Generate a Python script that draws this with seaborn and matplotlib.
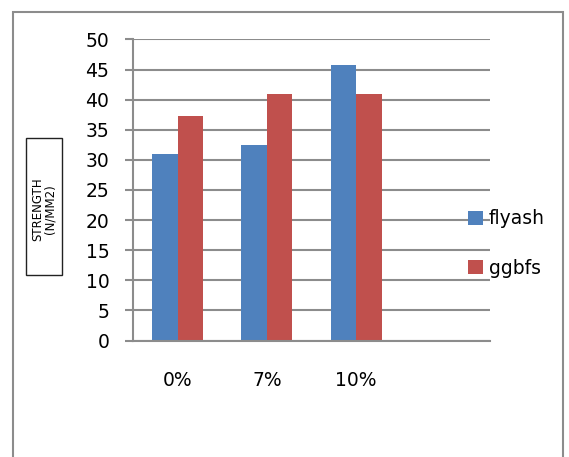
import matplotlib
matplotlib.use("Agg")
import matplotlib.pyplot as plt
from matplotlib.patches import Rectangle
import seaborn as sns
import pandas as pd
import numpy as np

categories = ["0%", "7%", "10%"]
all_slots = ["0%", "7%", "10%", ""]
flyash = [31.0, 32.5, 45.8]
ggbfs = [37.3, 41.0, 41.0]
series_names = ["flyash", "ggbfs"]
colors = ["#4F81BD", "#C0504D"]
yticks = [0, 5, 10, 15, 20, 25, 30, 35, 40, 45, 50]
ylabel = "STRENGTH\n(N/MM2)"

df = pd.DataFrame({
    "cat": categories * 2,
    "series": [series_names[0]] * 3 + [series_names[1]] * 3,
    "value": flyash + ggbfs,
})

sns.set_theme(style="white")
plt.rcParams["font.family"] = ["DejaVu Sans"]
plt.rcParams["text.color"] = "black"
plt.rcParams["xtick.labelcolor"] = "black"
plt.rcParams["ytick.labelcolor"] = "black"

W, H = 569, 457
fig = plt.figure(figsize=(W / 100, H / 100), dpi=100)
ax = fig.add_axes([133 / W, 1 - 340.5 / H, (490 - 133) / W, (340.5 - 39.5) / H])

sns.barplot(data=df, x="cat", y="value", hue="series", order=all_slots,
            hue_order=series_names, palette=colors, width=0.57, gap=0,
            saturation=1, edgecolor="none", ax=ax, legend=True)

grid_c = "#8C8C8C"
ax.set_xlim(-0.5, 3.5)
ax.set_ylim(0, 50)
ax.set_yticks(yticks)
ax.set_yticklabels([str(v) for v in yticks], fontsize=13.5, color="black")
ax.yaxis.grid(True, color=grid_c, linewidth=1.5)
ax.xaxis.grid(False)
ax.set_axisbelow(True)
for s in ["top", "right"]:
    ax.spines[s].set_visible(False)
ax.spines["left"].set_color(grid_c)
ax.spines["left"].set_linewidth(1.5)
ax.spines["bottom"].set_color(grid_c)
ax.spines["bottom"].set_linewidth(1.5)

ax.set_xticks(range(4))
ax.set_xticklabels(all_slots, fontsize=13.5, color="black")
ax.set_xticks(np.arange(-0.5, 4, 1), minor=True)
ax.tick_params(axis="x", which="major", length=0, pad=22)
ax.tick_params(axis="x", which="minor", length=6, width=1.5, color=grid_c, direction="out")
ax.tick_params(axis="y", which="major", length=6, width=1.5, color=grid_c, left=True,
               direction="out", pad=11)
ax.set_xlabel("")
ax.set_ylabel("")

ax.get_legend().remove()
handles = [Rectangle((0, 0), 1, 1, facecolor=c, edgecolor="none") for c in colors]
leg = fig.legend(handles, series_names, loc="center left",
                 bbox_to_anchor=(468 / W, 1 - 243.5 / H), frameon=False,
                 fontsize=13.5, handlelength=0.8, handleheight=0.8,
                 handletextpad=0.3, labelspacing=1.6, borderpad=0, borderaxespad=0)
for t in leg.get_texts():
    t.set_color("black")

# outer chart frame
fig.patches.append(Rectangle((13 / W, -0.1), (563 - 13) / W, 1.1 - 12 / H,
                             transform=fig.transFigure, fill=False,
                             edgecolor=grid_c, linewidth=1.5, figure=fig))
# y label box
fig.patches.append(Rectangle((26 / W, 1 - 275 / H), 36 / W, 137 / H,
                             transform=fig.transFigure, fill=False,
                             edgecolor="#222222", linewidth=1.0, figure=fig))
fig.text(44 / W, 1 - 209 / H, ylabel, rotation=90, ha="center", va="center",
         multialignment="center", fontsize=8.5, linespacing=1.0, color="black")

fig.savefig("out.png", dpi=100, facecolor="white")
